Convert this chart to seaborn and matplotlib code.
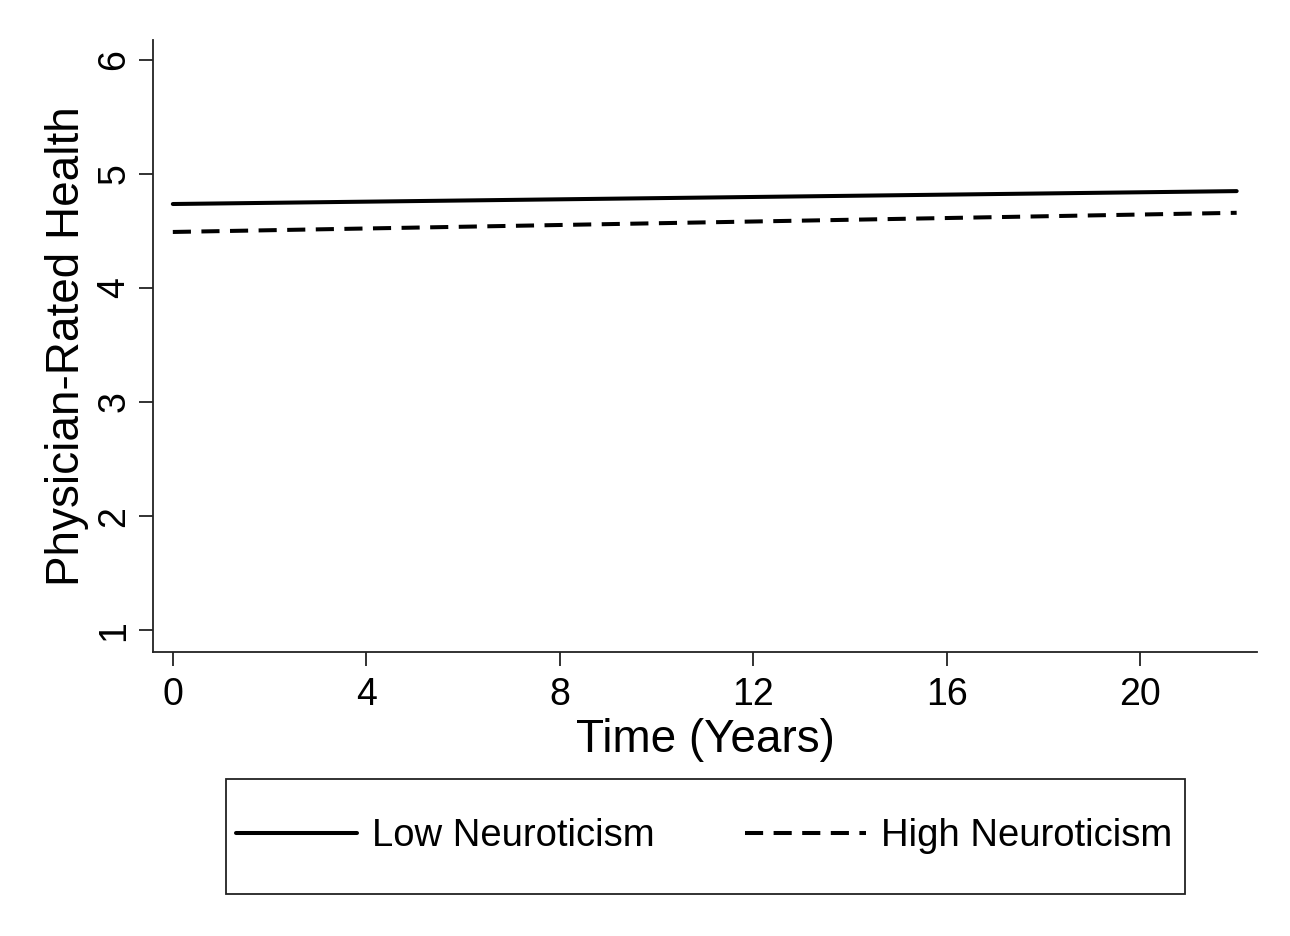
import pandas as pd
import seaborn as sns
import matplotlib.pyplot as plt
from matplotlib.patches import Rectangle

# values (fitted lines)
time_years = [0, 22]
low_neuro = [4.735, 4.848]
high_neuro = [4.49, 4.658]
groups = ["Low Neuroticism", "High Neuroticism"]
x_ticks = [0, 4, 8, 12, 16, 20]
y_ticks = [1, 2, 3, 4, 5, 6]

data = pd.DataFrame({
    "Time": time_years * 2,
    "Health": low_neuro + high_neuro,
    "Group": [groups[0]] * len(time_years) + [groups[1]] * len(time_years),
})

sns.set_style("ticks")
plt.rcParams["font.family"] = ["Liberation Sans", "DejaVu Sans"]
plt.rcParams["text.color"] = "black"
plt.rcParams["axes.labelcolor"] = "black"
plt.rcParams["xtick.labelcolor"] = "black"
plt.rcParams["ytick.labelcolor"] = "black"

fig = plt.figure(figsize=(12.9, 9.36), dpi=100)
ax = fig.add_axes([0.1186, 0.3035, 0.8558, 0.6535])

sns.lineplot(data=data, x="Time", y="Health", hue="Group", style="Group",
             palette={groups[0]: "black", groups[1]: "black"},
             dashes={groups[0]: "", groups[1]: (4.5, 2.6)},
             linewidth=2.9, ax=ax, legend=False)

ax.set_xlim(-0.41, 22.42)
ax.set_ylim(0.81, 6.17)
ax.set_xticks(x_ticks)
ax.set_yticks(y_ticks)
ax.tick_params(axis="both", labelsize=27, length=10, width=1.3, color="#222222")
ax.tick_params(axis="x", pad=8)
ax.tick_params(axis="y", pad=5)
for lab in ax.get_yticklabels():
    lab.set_rotation(90)
    lab.set_va("center")

for side in ["top", "right"]:
    ax.spines[side].set_visible(False)
for side in ["left", "bottom"]:
    ax.spines[side].set_linewidth(1.3)
    ax.spines[side].set_color("#222222")

ax.set_xlabel("Time (Years)", fontsize=33, labelpad=4)
ax.set_ylabel("Physician-Rated Health", fontsize=33, labelpad=5)

# legend box (Stata style, spanning the plot width below the axis)
box = (226 / 1290, 42 / 936, 959 / 1290, 115 / 936)
fig.patches.append(Rectangle(box[:2], box[2], box[3], transform=fig.transFigure,
                             fill=False, edgecolor="#222222", linewidth=1.3))
handles = ax.get_lines()[:2]
fig.legend(handles, groups, loc="center", ncol=2, mode="expand",
           bbox_to_anchor=(box[0] + 0.002, box[1], box[2] - 0.006, box[3]),
           fontsize=27.5, frameon=False, handlelength=3.15,
           handletextpad=0.4, borderpad=0.2, borderaxespad=0)

fig.savefig("out.png", dpi=100, facecolor="white")
